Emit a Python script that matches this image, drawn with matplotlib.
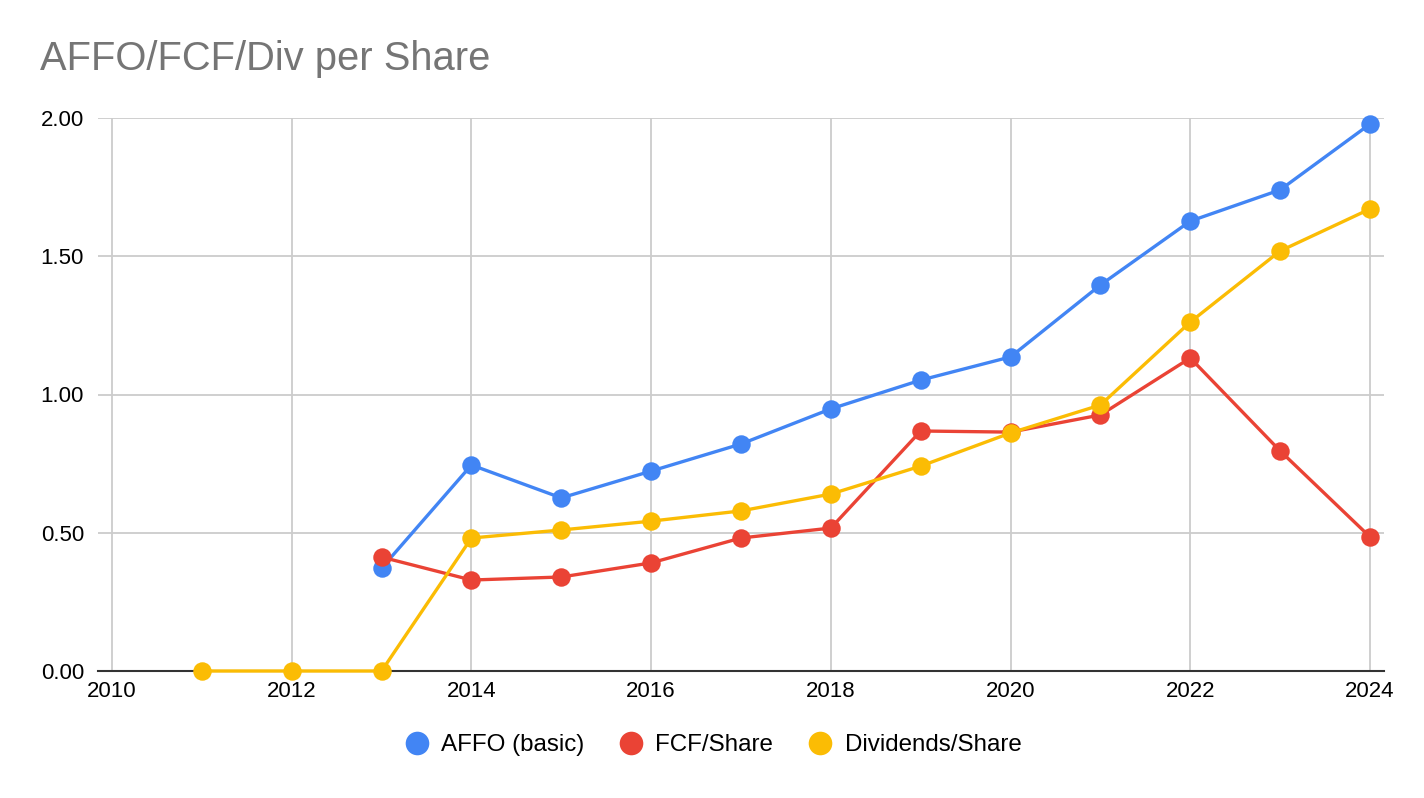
import matplotlib
matplotlib.use("Agg")
import matplotlib.pyplot as plt
import numpy as np

plt.rcParams['font.family'] = ['Liberation Sans', 'DejaVu Sans']

years_affo = [2013, 2014, 2015, 2016, 2017, 2018, 2019, 2020, 2021, 2022, 2023, 2024]
affo = [0.372, 0.745, 0.626, 0.723, 0.821, 0.948, 1.052, 1.136, 1.396, 1.627, 1.740, 1.978]

years_fcf = [2013, 2014, 2015, 2016, 2017, 2018, 2019, 2020, 2021, 2022, 2023, 2024]
fcf = [0.412, 0.329, 0.340, 0.391, 0.481, 0.517, 0.868, 0.864, 0.926, 1.132, 0.796, 0.485]

years_div = [2011, 2012, 2013, 2014, 2015, 2016, 2017, 2018, 2019, 2020, 2021, 2022, 2023, 2024]
div = [0.0, 0.0, 0.0, 0.481, 0.510, 0.542, 0.579, 0.640, 0.741, 0.861, 0.962, 1.262, 1.519, 1.671]

x_ticks = [2010, 2012, 2014, 2016, 2018, 2020, 2022, 2024]
y_ticks = [0.0, 0.5, 1.0, 1.5, 2.0]
y_labels = ["0.00", "0.50", "1.00", "1.50", "2.00"]

title = "AFFO/FCF/Div per Share"
names = ["AFFO (basic)", "FCF/Share", "Dividends/Share"]
colors = ["#4285F4", "#EA4335", "#FBBC04"]

fig = plt.figure(figsize=(14.24, 7.98), dpi=100)
ax = fig.add_axes([98/1424, 1-671/798, (1384-98)/1424, (671-118)/798])

series = [(years_affo, affo), (years_fcf, fcf), (years_div, div)]
handles = []
for (xs, ys), name, c in zip(series, names, colors):
    h, = ax.plot(xs, ys, color=c, lw=2.4, marker='o', markersize=13.3,
                 markeredgewidth=0, label=name, clip_on=False, zorder=3)
    handles.append(h)

ax.set_xlim(2009.844, 2024.156)
ax.set_ylim(0, 2.0)
ax.set_xticks(x_ticks)
ax.set_xticklabels([str(t) for t in x_ticks])
ax.set_yticks(y_ticks)
ax.set_yticklabels(y_labels)
ax.grid(True, color="#cccccc", lw=1.3)
ax.set_axisbelow(True)
for s in ['top', 'right', 'left']:
    ax.spines[s].set_visible(False)
ax.spines['bottom'].set_color("#333333")
ax.spines['bottom'].set_linewidth(1.5)
ax.spines['bottom'].set_zorder(2)
ax.tick_params(axis='both', length=0, labelsize=16, colors='#000000')
ax.tick_params(axis='x', pad=7)
ax.tick_params(axis='y', pad=10)

fig.text(40/1424, 1-59/798, title, fontsize=28.7, color="#757575", va='center', ha='left')

leg = fig.legend(handles=handles, labels=names, loc='center', bbox_to_anchor=(713/1424, 1-745/798),
                 ncol=3, frameon=False, fontsize=17.4, handlelength=1.0, handletextpad=0.5,
                 columnspacing=1.45)
for lh in leg.get_lines():
    lh.set_linestyle('None')
    lh.set_markersize(17)

fig.savefig("out.png", dpi=100)
